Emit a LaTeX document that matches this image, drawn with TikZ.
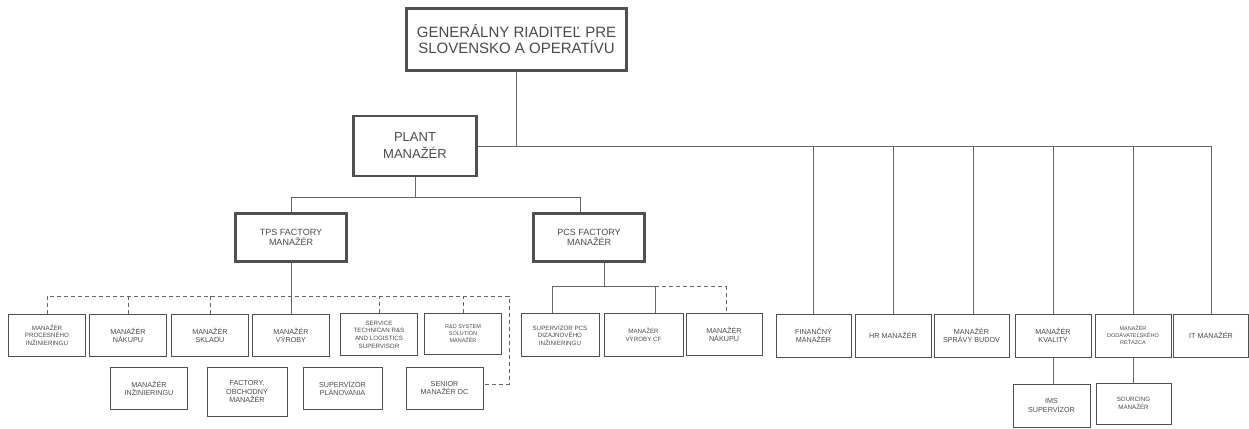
\documentclass[tikz,border=0pt]{standalone}
\usepackage{fontspec}
\setmainfont{Liberation Sans}
\usetikzlibrary{positioning}

\definecolor{boxgray}{HTML}{505050}
\definecolor{linegray}{HTML}{666666}
\definecolor{txtgray}{HTML}{4A4A4A}

\tikzset{
  unit/.style={draw=boxgray, line width=0.9pt, fill=white, text=txtgray,
    align=center, inner sep=1pt, minimum width=77pt, minimum height=42pt,
    font=\fontsize{7.2}{8.2}\selectfont},
  small/.style={font=\fontsize{6.2}{7.6}\selectfont},
  tiny/.style={font=\fontsize{5.5}{7}\selectfont},
  head/.style={draw=boxgray, line width=2.6pt, fill=white, text=txtgray,
    align=center, inner sep=1pt},
  link/.style={draw=linegray, line width=0.8pt},
  dotlink/.style={draw=linegray, line width=0.8pt, dash pattern=on 4pt off 3pt}
}

\begin{document}
\begin{tikzpicture}[x=1pt, y=-1pt]

  \useasboundingbox (0,0) rectangle (1249,428);

  \node[head, minimum width=220pt, minimum height=62pt,
    font=\fontsize{15}{16}\selectfont] (gr) at (516.5,39.5)
    {GENERÁLNY RIADITEĽ PRE\\SLOVENSKO A OPERATÍVU};
  \node[head, minimum width=123pt, minimum height=60pt,
    font=\fontsize{13}{17}\selectfont] (plant) at (415,146)
    {PLANT\\MANAŽÉR};
  \node[head, minimum width=111pt, minimum height=48pt,
    font=\fontsize{9}{10.5}\selectfont] (tps) at (291,237.5)
    {TPS FACTORY\\MANAŽÉR};
  \node[head, minimum width=111pt, minimum height=48pt,
    font=\fontsize{9}{10.5}\selectfont] (pcs) at (589,237.5)
    {PCS FACTORY\\MANAŽÉR};

  % TPS
  \node[unit, small] (proc) at (47,335) {MANAŽÉR\\PROCESNÉHO\\INŽINIERINGU};
  \node[unit] (nakupA) at (128,335) {MANAŽÉR\\NÁKUPU};
  \node[unit] (sklad) at (210,335) {MANAŽÉR\\SKLADU};
  \node[unit] (vyroba) at (291,335) {MANAŽÉR\\VÝROBY};
  \node[unit, small] (service) at (379,334.5)
    {SERVICE\\TECHNICAN R\&S\\AND LOGISTICS\\SUPERVISOR};
  \node[unit, tiny, minimum height=41pt] (rnd) at (463,333.5)
    {R\&D SYSTEM\\SOLUTION\\MANAŽÉR};

  \node[unit] (inz) at (149,388) {MANAŽÉR\\INŽINIERINGU};
  \node[unit, minimum width=80pt, minimum height=49pt] (obch) at (247,391.5)
    {FACTORY,\\OBCHODNÝ\\MANAŽÉR};
  \node[unit, minimum width=79pt] (plan) at (342.5,388.5)
    {SUPERVÍZOR\\PLÁNOVANIA};
  \node[unit] (senior) at (444.5,388) {SENIOR\\MANAŽÉR DC};

  % PCS
  \node[unit, small, minimum width=78pt, minimum height=43pt] (dizajn) at (560,335)
    {SUPERVÍZOR PCS\\DIZAJNOVÉHO\\INŽINIERINGU};
  \node[unit, small, minimum width=79pt, minimum height=43pt] (vcf) at (643.5,335)
    {MANAŽÉR\\VÝROBY CF};
  \node[unit, minimum width=76pt] (nakupB) at (724,334.5) {MANAŽÉR\\NÁKUPU};

  % staff
  \node[unit, minimum width=75pt, minimum height=43pt] (fin) at (813.5,335.5)
    {FINANČNÝ\\MANAŽÉR};
  \node[unit, minimum width=76pt, minimum height=43pt] (hr) at (893,335.5)
    {HR MANAŽÉR};
  \node[unit, minimum width=75pt, minimum height=43pt] (budovy) at (971.5,335.5)
    {MANAŽÉR\\SPRÁVY BUDOV};
  \node[unit, minimum width=76pt, minimum height=43pt] (kvalita) at (1053,335.5)
    {MANAŽÉR\\KVALITY};
  \node[unit, tiny, minimum width=76pt, minimum height=43pt] (retazec) at (1133,335.5)
    {MANAŽÉR\\DODÁVATEĽSKÉHO\\REŤAZCA};
  \node[unit, minimum width=75pt, minimum height=43pt] (it) at (1211,335.5)
    {IT MANAŽÉR};
  \node[unit, minimum width=77pt, minimum height=43pt] (ims) at (1051.5,405.5)
    {IMS\\SUPERVÍZOR};
  \node[unit, small, minimum width=75pt, minimum height=41pt] (sourcing) at (1133.5,403.5)
    {SOURCING\\MANAŽÉR};

  \coordinate (tpsbus) at (509,296);

  \draw[link] (gr.south) -- (gr.south |- plant.east);
  \draw[link] (plant.east) -| (it.north);
  \foreach \n in {fin,hr,kvalita,retazec}
    \draw[link] (\n.north) -- (\n.north |- plant.east);
  \draw[link] ([xshift=1.5pt]budovy.north) -- ([xshift=1.5pt]budovy.north |- plant.east);

  \draw[link] (plant.south) -- ++(0,20) coordinate (pbus);
  \draw[link] (tps.north) |- (pbus) -| ([xshift=-9pt]pcs.north);

  \draw[link] (tps.south) -- (vyroba.north);
  \draw[dotlink] (proc.north) |- (tpsbus) |- ([yshift=4pt]senior.east);
  \foreach \n in {nakupA,sklad,service,rnd}
    \draw[dotlink] (\n.north) -- (\n.north |- tpsbus);

  \draw[link] ([xshift=15pt]pcs.south) -- ++(0,24) coordinate (cbus);
  \draw[link] ([xshift=-8pt]dizajn.north) |- (cbus) -| ([xshift=11.5pt]vcf.north);
  \draw[dotlink] ([xshift=11.5pt]vcf.north |- cbus) -| ([xshift=2pt]nakupB.north);

  \draw[link] (kvalita.south) -- ([xshift=1.5pt]ims.north);
  \draw[link] (retazec.south) -- ([xshift=-0.5pt]sourcing.north);

\end{tikzpicture}
\end{document}
